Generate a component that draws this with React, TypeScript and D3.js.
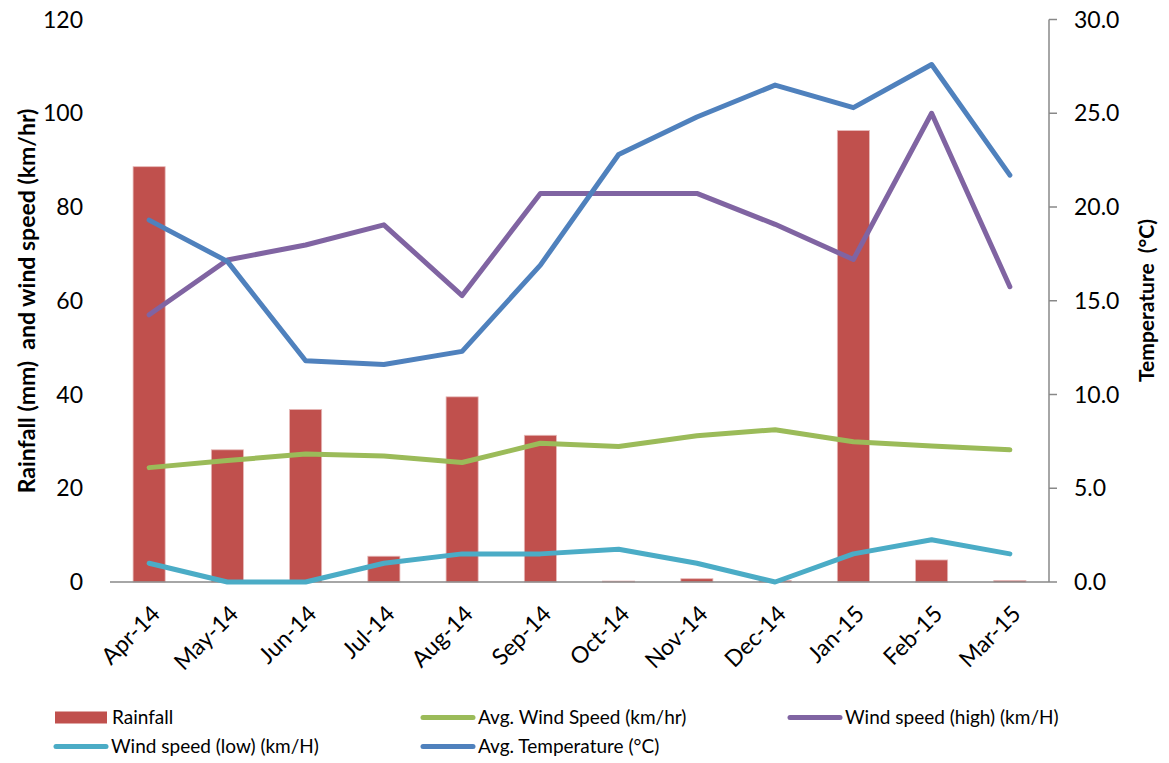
import React from "react";
import * as d3 from "d3";

const months = ["Apr-14","May-14","Jun-14","Jul-14","Aug-14","Sep-14","Oct-14","Nov-14","Dec-14","Jan-15","Feb-15","Mar-15"];
const rainfall = [88.6, 28.2, 36.8, 5.5, 39.5, 31.3, 0.2, 0.7, 0.3, 96.3, 4.7, 0.3];
const avgWind = [24.4, 25.9, 27.3, 26.9, 25.5, 29.6, 28.9, 31.2, 32.5, 29.9, 29.0, 28.2];
const windHigh = [57.0, 68.7, 71.9, 76.2, 61.1, 82.9, 82.9, 82.9, 76.3, 68.8, 100.0, 63.0];
const windLow = [4.0, 0, 0, 4.0, 6.0, 6.0, 7.0, 4.0, 0, 6.0, 9.0, 6.0];
const avgTemp = [19.3, 17.1, 11.8, 11.6, 12.3, 16.9, 22.8, 24.8, 26.5, 25.3, 27.6, 21.7];
const leftTicks = [0, 20, 40, 60, 80, 100, 120];
const rightTicks = [0, 5, 10, 15, 20, 25, 30];

const W = 1169, H = 763;
const L = 110, R = 1049, T = 19.5, B = 582;
const FONT = "Lato, 'Open Sans', sans-serif";

export default function App() {
  const x = d3.scaleBand<string>().domain(months).range([L, R]).paddingInner(0.59).paddingOuter(0.295);
  const yL = d3.scaleLinear().domain([0, 120]).range([B, T]);
  const yR = d3.scaleLinear().domain([0, 30]).range([B, T]);
  const cx = (m: string) => (x(m) as number) + x.bandwidth() / 2;

  const lineL = d3.line<number>().x((_, i) => cx(months[i])).y(d => yL(d));
  const lineR = d3.line<number>().x((_, i) => cx(months[i])).y(d => yR(d));

  const series = [
    { data: avgWind, color: "#9BBB59", gen: lineL },
    { data: windHigh, color: "#8064A2", gen: lineL },
    { data: windLow, color: "#4BACC6", gen: lineL },
    { data: avgTemp, color: "#4F81BD", gen: lineR },
  ];

  const legend = [
    { label: "Rainfall", color: "#C0504D", type: "rect", x: 55, y: 717.5 },
    { label: "Avg. Wind Speed (km/hr)", color: "#9BBB59", type: "line", x: 421, y: 717.5 },
    { label: "Wind speed (high) (km/H)", color: "#8064A2", type: "line", x: 788, y: 717.5 },
    { label: "Wind speed (low) (km/H)", color: "#4BACC6", type: "line", x: 54, y: 746.5 },
    { label: "Avg. Temperature (°C)", color: "#4F81BD", type: "line", x: 421, y: 746.5 },
  ];

  return (
    <svg width={W} height={H} style={{ position: "absolute", left: 0, top: 0, background: "#fff" }} fontFamily={FONT}>
      <rect x={0} y={0} width={W} height={H} fill="#fff" />
      {rainfall.map((v, i) => (
        <rect key={i} x={x(months[i])} y={yL(v)} width={x.bandwidth()} height={B - yL(v)} fill="#C0504D" stroke="#E6B9B8" strokeWidth={0.8} />
      ))}
      <line x1={L} x2={R} y1={B} y2={B} stroke="#888" strokeWidth={1.5} />
      <line x1={R} x2={R} y1={T} y2={B} stroke="#888" strokeWidth={1.5} />
      {rightTicks.map(t => (
        <g key={t}>
          <line x1={R} x2={R + 8} y1={yR(t)} y2={yR(t)} stroke="#888" strokeWidth={1.5} />
          <text x={1074} y={yR(t)} dy="0.35em" fontSize={23} fill="#000">{t.toFixed(1)}</text>
        </g>
      ))}
      {leftTicks.map(t => (
        <text key={t} x={83} y={yL(t)} dy="0.35em" textAnchor="end" fontSize={23} fill="#000">{t}</text>
      ))}
      {series.map((s, i) => (
        <path key={i} d={s.gen(s.data) as string} fill="none" stroke={s.color} strokeWidth={5} strokeLinejoin="round" strokeLinecap="round" />
      ))}
      {months.map(m => (
        <text key={m} transform={`translate(${cx(m) + 1},${604}) rotate(-45)`} textAnchor="end" dy="0.7em" fontSize={23} fill="#000">{m}</text>
      ))}
      <text transform={`translate(27,301) rotate(-90)`} textAnchor="middle" dy="0.35em" fontSize={23} fontWeight="bold" fill="#000" style={{ whiteSpace: "pre" }}>{"Rainfall (mm)  and wind speed (km/hr)"}</text>
      <text transform={`translate(1147,300.5) rotate(-90)`} textAnchor="middle" dy="0.35em" fontSize={21} fontWeight="bold" fill="#000" style={{ whiteSpace: "pre" }}>{"Temperature  (°C)"}</text>
      {legend.map(l => (
        <g key={l.label}>
          {l.type === "rect"
            ? <rect x={l.x} y={l.y - 6} width={52} height={12} fill={l.color} />
            : <line x1={l.x + 2} x2={l.x + 52} y1={l.y} y2={l.y} stroke={l.color} strokeWidth={5} strokeLinecap="round" />}
          <text x={l.x + 57} y={l.y} dy="0.35em" fontSize={19} fill="#000">{l.label}</text>
        </g>
      ))}
    </svg>
  );
}
